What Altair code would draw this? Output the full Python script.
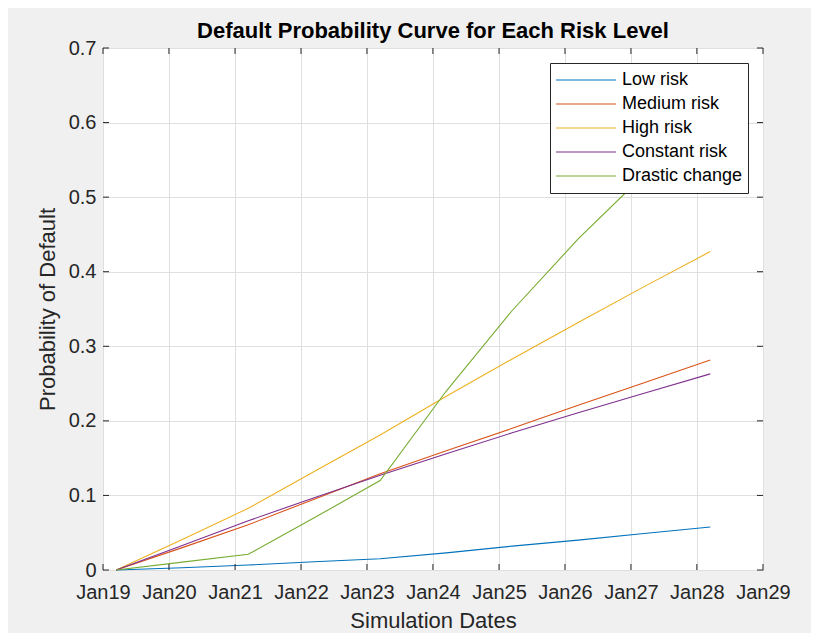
import altair as alt
import pandas as pd

# ---- data ----
dates = ["2019-03-15T00:00:00", "2020-03-15T00:00:00", "2021-03-15T00:00:00",
         "2022-03-15T00:00:00", "2023-03-15T00:00:00", "2024-03-15T00:00:00",
         "2025-03-15T00:00:00", "2026-03-15T00:00:00", "2027-03-15T00:00:00",
         "2028-03-15T00:00:00"]
low_risk = [0.0, 0.003, 0.0067, 0.011, 0.015, 0.023, 0.032, 0.040, 0.049, 0.0577]
medium_risk = [0.0, 0.030, 0.0607, 0.095, 0.129, 0.160, 0.190, 0.221, 0.251, 0.2816]
high_risk = [0.0, 0.041, 0.0827, 0.132, 0.181, 0.233, 0.283, 0.332, 0.380, 0.427]
constant_risk = [0.0, 0.033, 0.066, 0.097, 0.127, 0.156, 0.184, 0.211, 0.237, 0.263]
drastic_change = [0.0, 0.0105, 0.021, 0.070, 0.120, 0.240, 0.348, 0.444, 0.530, 0.610]

series_names = ["Low risk", "Medium risk", "High risk", "Constant risk", "Drastic change"]
series_colors = ["#0072BD", "#D95319", "#EDB120", "#7E2F8E", "#77AC30"]
x_tick_years = list(range(2019, 2030))
y_tick_values = [0, 0.1, 0.2, 0.3, 0.4, 0.5, 0.6, 0.7]

rows = []
for name, vals in zip(series_names,
                      [low_risk, medium_risk, high_risk, constant_risk, drastic_change]):
    for d, v in zip(dates, vals):
        rows.append({"date": d, "value": v, "series": name})
df = pd.DataFrame(rows)

W, H = 660, 522
TICK = 6
FONT = "Liberation Sans"
INK = "#262626"

x_scale = alt.Scale(domain=[alt.DateTime(year=2019, month=1, date=1),
                            alt.DateTime(year=2029, month=1, date=1)])
y_scale = alt.Scale(domain=[0, 0.7])

x_axis = alt.Axis(values=[alt.DateTime(year=y, month=1, date=1) for y in x_tick_years],
                  format="%b%y", title="Simulation Dates", grid=True, ticks=False,
                  domain=False, labelPadding=12, titlePadding=8, labelFontSize=20,
                  titleFontSize=22, labelFlush=False)
y_axis = alt.Axis(values=y_tick_values, format=".1~f", title="Probability of Default",
                  grid=True, ticks=False, domain=False, labelPadding=7,
                  titlePadding=9, labelFontSize=20, titleFontSize=22)

lines = alt.Chart(df).mark_line(strokeWidth=1.1).encode(
    x=alt.X("date:T", scale=x_scale, axis=x_axis),
    y=alt.Y("value:Q", scale=y_scale, axis=y_axis),
    color=alt.Color("series:N", scale=alt.Scale(domain=series_names, range=series_colors),
                    sort=series_names,
                    legend=alt.Legend(title=None, orient="top-right", offset=15,
                                      symbolType="stroke", symbolSize=3600,
                                      symbolStrokeWidth=1.1, clipHeight=24,
                                      labelFontSize=18, labelOffset=5,
                                      fillColor="white", strokeColor=INK,
                                      padding=5, rowPadding=0, labelColor="black",
                                      labelFont=FONT)),
    detail="series:N",
)

xt = pd.DataFrame({"date": [f"{y}-01-01T00:00:00" for y in x_tick_years]})
yt = pd.DataFrame({"value": y_tick_values})

xticks_bottom = alt.Chart(xt).mark_rule(color=INK, strokeWidth=1).encode(
    x=alt.X("date:T", scale=x_scale), y=alt.value(H), y2=alt.value(H - TICK))
xticks_top = alt.Chart(xt).mark_rule(color=INK, strokeWidth=1).encode(
    x=alt.X("date:T", scale=x_scale), y=alt.value(0), y2=alt.value(TICK))
yticks_left = alt.Chart(yt).mark_rule(color=INK, strokeWidth=1).encode(
    y=alt.Y("value:Q", scale=y_scale), x=alt.value(0), x2=alt.value(TICK))
yticks_right = alt.Chart(yt).mark_rule(color=INK, strokeWidth=1).encode(
    y=alt.Y("value:Q", scale=y_scale), x=alt.value(W), x2=alt.value(W - TICK))

chart = alt.layer(lines, xticks_bottom, xticks_top, yticks_left, yticks_right).properties(
    width=W, height=H,
    title=alt.TitleParams("Default Probability Curve for Each Risk Level",
                          fontSize=22, font=FONT, fontWeight="bold", color="black",
                          anchor="middle", offset=-5),
).configure(
    background="#f0f0f0",
    padding={"left": 95, "top": 40, "right": 48, "bottom": 63},
    autosize="none",
).configure_view(
    stroke=INK, strokeWidth=1, fill="white"
).configure_axis(
    labelFont=FONT, titleFont=FONT, labelColor=INK, titleColor=INK,
    titleFontWeight="normal", gridColor="#dfdfdf", gridWidth=1,
)

chart.save("out.html", embed_options={"renderer": "svg", "actions": False})
